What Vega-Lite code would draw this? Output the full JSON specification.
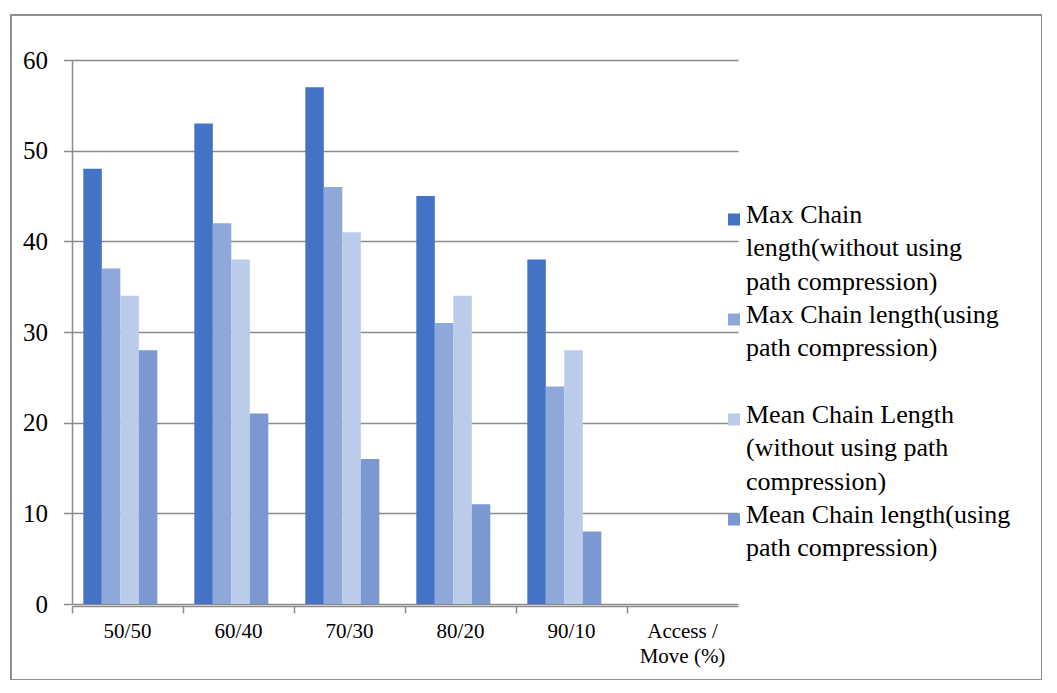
{
  "$schema": "https://vega.github.io/schema/vega-lite/v6.json",
  "width": 1031,
  "height": 665,
  "padding": {"left": 11, "top": 15, "right": 0, "bottom": 0},
  "autosize": {"type": "none"},
  "background": "white",
  "config": {
    "view": {"stroke": "#8f8f8f", "strokeWidth": 2},
    "font": "Liberation Serif"
  },
  "data": {
    "values": [
      {"ratio": "50/50", "series": "Max Chain length(without using path compression)", "value": 48},
      {"ratio": "50/50", "series": "Max Chain length(using path compression)", "value": 37},
      {"ratio": "50/50", "series": "Mean Chain Length (without using path compression)", "value": 34},
      {"ratio": "50/50", "series": "Mean Chain length(using path compression)", "value": 28},
      {"ratio": "60/40", "series": "Max Chain length(without using path compression)", "value": 53},
      {"ratio": "60/40", "series": "Max Chain length(using path compression)", "value": 42},
      {"ratio": "60/40", "series": "Mean Chain Length (without using path compression)", "value": 38},
      {"ratio": "60/40", "series": "Mean Chain length(using path compression)", "value": 21},
      {"ratio": "70/30", "series": "Max Chain length(without using path compression)", "value": 57},
      {"ratio": "70/30", "series": "Max Chain length(using path compression)", "value": 46},
      {"ratio": "70/30", "series": "Mean Chain Length (without using path compression)", "value": 41},
      {"ratio": "70/30", "series": "Mean Chain length(using path compression)", "value": 16},
      {"ratio": "80/20", "series": "Max Chain length(without using path compression)", "value": 45},
      {"ratio": "80/20", "series": "Max Chain length(using path compression)", "value": 31},
      {"ratio": "80/20", "series": "Mean Chain Length (without using path compression)", "value": 34},
      {"ratio": "80/20", "series": "Mean Chain length(using path compression)", "value": 11},
      {"ratio": "90/10", "series": "Max Chain length(without using path compression)", "value": 38},
      {"ratio": "90/10", "series": "Max Chain length(using path compression)", "value": 24},
      {"ratio": "90/10", "series": "Mean Chain Length (without using path compression)", "value": 28},
      {"ratio": "90/10", "series": "Mean Chain length(using path compression)", "value": 8}
    ]
  },
  "mark": {"type": "bar"},
  "encoding": {
    "x": {
      "field": "ratio",
      "type": "nominal",
      "scale": {
        "domain": ["50/50", "60/40", "70/30", "80/20", "90/10", "Access / Move (%)"],
        "range": [61, 727],
        "paddingInner": 0,
        "paddingOuter": 0
      },
      "axis": {
        "title": null,
        "offset": -74,
        "labelAngle": 0,
        "labelFontSize": 21,
        "labelColor": "black",
        "labelPadding": 7,
        "labelBaseline": "top",
        "labelLineHeight": 25,
        "labelExpr": "datum.value == 'Access / Move (%)' ? ['Access /', 'Move (%)'] : datum.value",
        "domainColor": "#8c8c8c",
        "domainWidth": 1.5,
        "tickColor": "#8c8c8c",
        "tickWidth": 1.5,
        "tickSize": 7,
        "bandPosition": 0,
        "grid": false
      }
    },
    "xOffset": {
      "field": "series",
      "type": "nominal",
      "sort": [
        "Max Chain length(without using path compression)",
        "Max Chain length(using path compression)",
        "Mean Chain Length (without using path compression)",
        "Mean Chain length(using path compression)"
      ],
      "scale": {"paddingInner": 0, "paddingOuter": 1.3, "align": 0.306}
    },
    "y": {
      "field": "value",
      "type": "quantitative",
      "scale": {"domain": [0, 60], "range": [589, 45], "nice": false, "zero": true},
      "axis": {
        "title": null,
        "offset": -61,
        "values": [0, 10, 20, 30, 40, 50, 60],
        "labelFontSize": 25,
        "labelColor": "black",
        "labelPadding": 16,
        "domainColor": "#8c8c8c",
        "domainWidth": 1.5,
        "tickColor": "#8c8c8c",
        "tickWidth": 1.5,
        "tickSize": 8.5,
        "grid": true,
        "gridColor": "#8c8c8c",
        "gridWidth": 1.5
      }
    },
    "color": {
      "field": "series",
      "type": "nominal",
      "scale": {
        "domain": [
          "Max Chain length(without using path compression)",
          "Max Chain length(using path compression)",
          "Mean Chain Length (without using path compression)",
          "Mean Chain length(using path compression)"
        ],
        "range": ["#4472C4", "#8EA8DA", "#BBCBEA", "#7B98D3"]
      },
      "legend": {
        "title": null,
        "orient": "none",
        "legendX": 710,
        "legendY": 191.5,
        "padding": 0,
        "rowPadding": 7,
        "labelFontSize": 26,
        "labelColor": "black",
        "labelOffset": -1,
        "labelLimit": 400,
        "symbolType": "square",
        "symbolSize": 144,
        "symbolStrokeWidth": 0,
        "labelExpr": "datum.value == 'Max Chain length(without using path compression)' ? ['Max Chain', 'length(without using', 'path compression)'] : datum.value == 'Max Chain length(using path compression)' ? ['Max Chain length(using', 'path compression)', ' '] : datum.value == 'Mean Chain Length (without using path compression)' ? ['Mean Chain Length', '(without using path', 'compression)'] : ['Mean Chain length(using', 'path compression)']",
        "encoding": {
          "labels": {"lineHeight": {"value": 33.5}, "dy": {"value": -5}}
        }
      }
    }
  }
}
